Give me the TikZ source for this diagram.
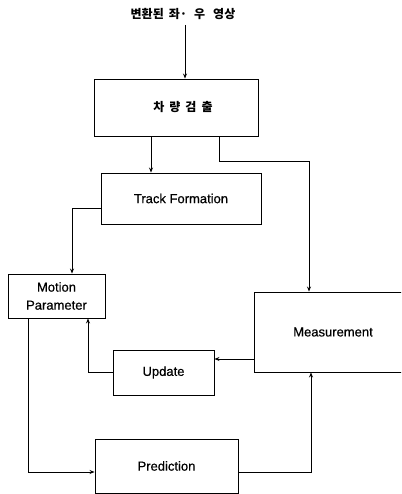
\documentclass[tikz,border=0pt]{standalone}
\usepackage{fontspec}
\setmainfont{Liberation Sans}[FakeBold=0.5]
\newfontfamily\kr{Noto Sans CJK KR}
\usetikzlibrary{arrows.meta}
\begin{document}
\begin{tikzpicture}[x=1pt,y=-1pt,
  box/.style={draw, line width=0.9pt, rectangle, inner sep=0pt, font=\fontsize{13}{18}\selectfont},
  conn/.style={line width=0.9pt, -{Stealth[length=5pt,width=4pt]}},
  krtext/.style={font=\kr\bfseries\fontsize{12}{15}\selectfont}]
\useasboundingbox (0,0) rectangle (401,494);
\clip (0,0) rectangle (401,494);
\node[krtext, inner sep=0pt] (title) at (183,14) {변환된\hspace{5pt}좌·\hspace{7pt}우\hspace{8pt}영상};
\node[box, minimum width=164pt, minimum height=57pt] (det) at (176,107.5)
  {\kr\bfseries\fontsize{12}{15}\selectfont\hspace{14pt}\raisebox{-3pt}{차\hspace{5pt}량\hspace{5pt}검\hspace{5pt}출}};
\node[box, minimum width=160pt, minimum height=51pt] (tf) at (181,198.5) {Track Formation};
\node[box, minimum width=97pt, minimum height=44pt, align=center] (mp) at (56.5,296) {Motion\\Parameter};
\node[box, minimum width=158pt, minimum height=80pt] (meas) at (333,332) {Measurement};
\node[box, minimum width=101pt, minimum height=45pt] (upd) at (163.5,372.5) {Update};
\node[box, minimum width=143pt, minimum height=54pt] (pred) at (166.5,466) {Prediction};
\coordinate (tin) at (185,25);
% connectors
\draw[conn] (tin) -- (tin |- det.north);
\draw[conn] ([xshift=-30pt]tf.north |- det.south) -- ([xshift=-30pt]tf.north);
\draw[conn] ([xshift=43pt]det.south) -- ++(0,25) -| ([xshift=-24pt]meas.north);
\draw[conn] ([yshift=-9.5pt]tf.west) -| ([xshift=15.5pt]mp.north);
\draw[conn] ([yshift=-27pt]meas.west) -- ([yshift=-27pt]meas.west -| upd.east);
\draw[conn] (upd.west) -| ([xshift=31.5pt]mp.south);
\draw[conn] ([xshift=-28.5pt]mp.south) |- ([yshift=-6pt]pred.west);
\draw[conn] ([yshift=-6pt]pred.east) -| ([xshift=-22pt]meas.south);
\end{tikzpicture}
\end{document}
